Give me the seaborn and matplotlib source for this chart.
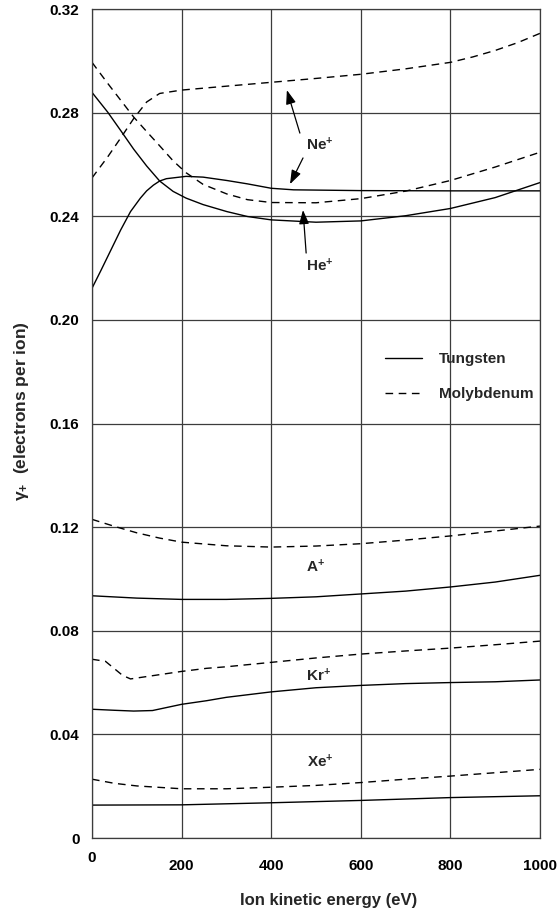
import matplotlib
matplotlib.use("Agg")
import matplotlib.pyplot as plt
import pandas as pd
import seaborn as sns

# Secondary-electron yield (electrons per ion) vs. ion kinetic energy (eV)
# for noble-gas ions on tungsten (solid) and molybdenum (dashed) targets.
he_w_energy = [0, 35, 64, 93, 122, 151, 181, 210, 248, 301, 347, 400, 500, 600,
               700, 800, 900, 1000]
he_w_gamma = [0.2878, 0.2802, 0.2731, 0.2659, 0.2594, 0.2536, 0.2496, 0.2470,
              0.2445, 0.2418, 0.2399, 0.2386, 0.2377, 0.2382, 0.2402, 0.2430,
              0.2472, 0.2530]
he_mo_energy = [0, 35, 64, 93, 122, 151, 181, 210, 248, 301, 347, 400, 500, 600,
                700, 800, 900, 1000]
he_mo_gamma = [0.2994, 0.2913, 0.2848, 0.2783, 0.2727, 0.2672, 0.2614, 0.2568,
               0.2523, 0.2486, 0.2464, 0.2453, 0.2452, 0.2468, 0.2497, 0.2538,
               0.2590, 0.2647]

ne_w_energy = [0, 20, 42, 64, 86, 108, 122, 137, 151, 166, 210, 248, 301, 347,
               400, 450, 600, 800, 1000]
ne_w_gamma = [0.2122, 0.2191, 0.2269, 0.2347, 0.2418, 0.2470, 0.2498, 0.2520,
              0.2536, 0.2545, 0.2554, 0.2551, 0.2538, 0.2525, 0.2508, 0.2502,
              0.2499, 0.2498, 0.2498]
ne_mo_energy = [0, 35, 64, 93, 122, 151, 200, 286, 400, 500, 600, 700, 800, 850,
                900, 950, 1000]
ne_mo_gamma = [0.2548, 0.2629, 0.2702, 0.2777, 0.2841, 0.2874, 0.2887, 0.2900,
               0.2917, 0.2932, 0.2948, 0.2969, 0.2994, 0.3015, 0.3040, 0.3070,
               0.3106]

ar_w_energy = [0, 100, 200, 300, 400, 500, 600, 700, 800, 900, 1000]
ar_w_gamma = [0.0935, 0.0926, 0.0921, 0.0921, 0.0925, 0.0931, 0.0942, 0.0953,
              0.0969, 0.0988, 0.1014]
ar_mo_energy = [0, 50, 100, 150, 200, 300, 400, 500, 600, 700, 800, 900, 1000]
ar_mo_gamma = [0.1230, 0.1203, 0.1178, 0.1158, 0.1142, 0.1128, 0.1123, 0.1127,
               0.1136, 0.1150, 0.1166, 0.1185, 0.1204]

kr_w_energy = [0, 50, 93, 135, 200, 256, 300, 400, 500, 600, 700, 800, 900, 1000]
kr_w_gamma = [0.0497, 0.0493, 0.0490, 0.0492, 0.0516, 0.0530, 0.0543, 0.0564,
              0.0580, 0.0589, 0.0596, 0.0600, 0.0603, 0.0610]
kr_mo_energy = [0, 30, 68, 86, 200, 256, 300, 400, 500, 600, 700, 800, 900, 1000]
kr_mo_gamma = [0.0690, 0.0682, 0.0628, 0.0614, 0.0643, 0.0655, 0.0661, 0.0678,
               0.0695, 0.0710, 0.0722, 0.0733, 0.0746, 0.0760]

xe_w_energy = [0, 200, 400, 600, 800, 1000]
xe_w_gamma = [0.0127, 0.0128, 0.0136, 0.0145, 0.0156, 0.0163]
xe_mo_energy = [0, 50, 100, 200, 300, 400, 500, 600, 700, 800, 900, 1000]
xe_mo_gamma = [0.0227, 0.0211, 0.0201, 0.0190, 0.0190, 0.0196, 0.0203, 0.0214,
               0.0227, 0.0239, 0.0252, 0.0265]

metals = ["Tungsten", "Molybdenum"]
x_ticks = [0, 200, 400, 600, 800, 1000]
y_ticks = [0, 0.04, 0.08, 0.12, 0.16, 0.20, 0.24, 0.28, 0.32]
y_tick_labels = ["0", "0.04", "0.08", "0.12", "0.16", "0.20", "0.24", "0.28", "0.32"]

series = [
    ("He", "Tungsten", he_w_energy, he_w_gamma),
    ("He", "Molybdenum", he_mo_energy, he_mo_gamma),
    ("Ne", "Tungsten", ne_w_energy, ne_w_gamma),
    ("Ne", "Molybdenum", ne_mo_energy, ne_mo_gamma),
    ("Ar", "Tungsten", ar_w_energy, ar_w_gamma),
    ("Ar", "Molybdenum", ar_mo_energy, ar_mo_gamma),
    ("Kr", "Tungsten", kr_w_energy, kr_w_gamma),
    ("Kr", "Molybdenum", kr_mo_energy, kr_mo_gamma),
    ("Xe", "Tungsten", xe_w_energy, xe_w_gamma),
    ("Xe", "Molybdenum", xe_mo_energy, xe_mo_gamma),
]
rows = []
for ion, metal, energy, gamma in series:
    for e, g in zip(energy, gamma):
        rows.append({"ion": ion, "metal": metal, "energy": e, "gamma": g})
df = pd.DataFrame(rows)

sns.set_theme(style="white")
plt.rcParams["font.family"] = ["Liberation Sans", "DejaVu Sans"]
plt.rcParams["font.weight"] = "bold"
plt.rcParams["mathtext.fontset"] = "custom"
plt.rcParams["mathtext.rm"] = "Liberation Sans:bold"
plt.rcParams["mathtext.it"] = "Liberation Sans:bold"
plt.rcParams["mathtext.bf"] = "Liberation Sans:bold"

W, H = 558, 914
fig = plt.figure(figsize=(W / 100, H / 100), dpi=100)
ax = fig.add_axes([92 / W, 1 - 838 / H, 448 / W, 829 / H])

grid_color = "#3c3c3c"
sns.lineplot(
    data=df, x="energy", y="gamma", style="metal", style_order=metals,
    units="ion", estimator=None, color="black", linewidth=1.0,
    dashes={"Tungsten": "", "Molybdenum": (5.5, 4.0)}, ax=ax, sort=False,
)

ax.set_xlim(0, 1000)
ax.set_ylim(0, 0.32)
ax.set_xticks(x_ticks)
ax.set_xticklabels([str(v) for v in x_ticks])
ax.set_yticks(y_ticks)
ax.set_yticklabels(y_tick_labels)
ax.grid(True, color=grid_color, linewidth=0.9)
ax.set_axisbelow(True)
for s in ax.spines.values():
    s.set_color(grid_color)
    s.set_linewidth(0.9)
ax.tick_params(axis="both", length=0, labelsize=11, colors="black")
ax.tick_params(axis="x", pad=15)
ax.tick_params(axis="y", pad=9)
ax.xaxis.get_major_ticks()[0].set_pad(9)

ax.set_xlabel("Ion kinetic energy (eV)", fontsize=12, fontweight="bold")
ax.xaxis.set_label_coords(0.528, -0.0660)
ax.set_ylabel("γ$_{+}$  (electrons per ion)", fontsize=12.5, fontweight="bold")
ax.yaxis.set_label_coords(-0.136, 0.5145)

# legend without frame, positioned inside the right-hand side of the grid
old = ax.get_legend()
handles = old.legend_handles
labels = [t.get_text() for t in old.get_texts()]
old.remove()
ax.legend(handles, labels, loc="upper left", bbox_to_anchor=(0.655, 0.586),
          frameon=False, fontsize=11, handlelength=2.4, handletextpad=1.1,
          labelspacing=1.36, borderpad=0, borderaxespad=0)

txt = dict(fontsize=11, fontweight="bold", ha="center", va="center")
arrow = dict(arrowstyle="-|>,head_length=0.7,head_width=0.25", color="black",
             lw=0.9, shrinkA=0, shrinkB=0)

ax.text(509, 0.2675, "Ne$^{+}$", **txt)
ax.annotate("", xy=(435, 0.2887), xytext=(464, 0.2721), arrowprops=arrow)
ax.annotate("", xy=(442, 0.2524), xytext=(471, 0.2625), arrowprops=arrow)
ax.text(509, 0.2208, "He$^{+}$", **txt)
ax.annotate("", xy=(471, 0.2424), xytext=(478, 0.2258), arrowprops=arrow)
ax.text(500, 0.1046, "A$^{+}$", **txt)
ax.text(505, 0.0625, "Kr$^{+}$", **txt)
ax.text(509, 0.0293, "Xe$^{+}$", **txt)

fig.savefig("out.png", dpi=100)
